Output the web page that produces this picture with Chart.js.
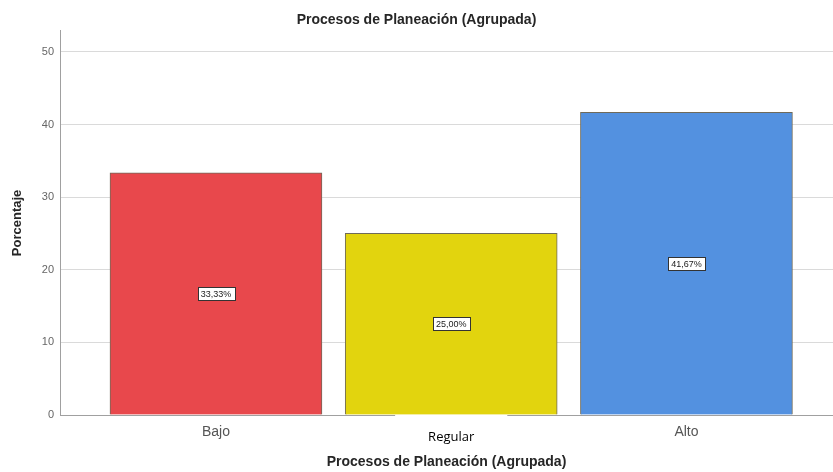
<!DOCTYPE html>
<html>
<head>
<meta charset="utf-8">
<script src="https://cdn.jsdelivr.net/npm/chart.js@4"></script>
<style>
  html, body { margin:0; padding:0; background:#fff; }
  #wrap { width:833px; height:472px; position:relative; }
</style>
</head>
<body>
<div id="wrap"><canvas id="ch-planeacion"></canvas></div>
<script>
// ====================== DATA ======================
const categories = ['Bajo', 'Regular', 'Alto'];
const percentages = [33.33, 25.00, 41.67];
const barColors = ['#e8484c', '#e2d40e', '#5391e0'];
const yTicks = [0, 10, 20, 30, 40, 50];

const chartTitle = 'Procesos de Planeación (Agrupada)';
const xTitle = 'Procesos de Planeación (Agrupada)';
const yTitle = 'Porcentaje';

const fmtPct = v => v.toFixed(2).replace('.', ',') + '%';

// value box in the middle of each bar
const valueBoxes = {
  id: 'valueBoxes',
  afterDatasetsDraw(chart) {
    const ctx = chart.ctx;
    const meta = chart.getDatasetMeta(0);
    ctx.save();
    ctx.font = '9px "Liberation Sans", Arial, sans-serif';
    ctx.textAlign = 'center';
    ctx.textBaseline = 'middle';
    meta.data.forEach((bar, i) => {
      const txt = fmtPct(percentages[i]);
      const cx = bar.x, cy = (bar.y + bar.base) / 2;
      const w = ctx.measureText(txt).width + 6, h = 13;
      ctx.fillStyle = '#fff';
      ctx.fillRect(Math.round(cx - w/2) + 0.5, Math.round(cy - h/2) + 0.5, Math.round(w), h);
      ctx.strokeStyle = '#333';
      ctx.lineWidth = 1;
      ctx.strokeRect(Math.round(cx - w/2) + 0.5, Math.round(cy - h/2) + 0.5, Math.round(w), h);
      ctx.fillStyle = '#222';
      ctx.fillText(txt, cx, cy + 1);
    });
    ctx.restore();
  }
};

const cvs = document.getElementById('ch-planeacion');
new Chart(cvs, {
  type: 'bar',
  data: {
    datasets: [{
      data: percentages.map((v, i) => ({ x: i, y: v })),
      backgroundColor: barColors,
      borderColor: '#6f6a5a',
      borderWidth: 1,
      barThickness: 212
    }]
  },
  options: {
    responsive: true, maintainAspectRatio: false, animation: false,
    layout: { padding: 0 },
    plugins: {
      legend: { display: false },
      tooltip: { enabled: false },
      title: {
        display: true, text: chartTitle, color: '#262626',
        font: { family: '"Liberation Sans", Arial, sans-serif', size: 14, weight: 'bold' },
        padding: { top: 12, bottom: 2 }
      }
    },
    scales: {
      x: {
        type: 'linear', min: -0.663, max: 2.623, offset: false, z: 1,
        grid: { display: false, drawTicks: false, offset: false },
        border: { display: true, color: '#a0a0a0' },
        afterBuildTicks: s => { s.ticks = categories.map((c, i) => ({ value: i })); },
        afterFit: s => { s.height = 57; },
        ticks: {
          padding: 9,
          callback: v => categories[v],
          color: c => c.index === 1 ? '#000' : '#555',
          font: c => c.index === 1
            ? { family: '"Open Sans", sans-serif', size: 13, lineHeight: 2 }
            : { family: '"Liberation Sans", Arial, sans-serif', size: 14 },
          showLabelBackdrop: c => c.index === 1,
          backdropColor: '#fff',
          backdropPadding: { top: 10, bottom: 2, left: 33, right: 33 }
        },
        title: {
          display: true, text: xTitle, color: '#262626',
          font: { family: '"Liberation Sans", Arial, sans-serif', size: 14, weight: 'bold' },
          padding: { top: 0, bottom: 1 }
        }
      },
      y: {
        min: 0, max: 52.9,
        grid: { color: '#dadada', drawTicks: false },
        border: { display: true, color: '#a0a0a0' },
        afterBuildTicks: s => { s.ticks = yTicks.map(v => ({ value: v })); },
        afterFit: s => { s.width = 60; },
        ticks: {
          padding: 6, color: '#666',
          font: { family: '"Liberation Sans", Arial, sans-serif', size: 11 }
        },
        title: {
          display: true, text: yTitle, color: '#262626',
          font: { family: '"Liberation Sans", Arial, sans-serif', size: 13, weight: 'bold' },
          padding: { top: 10, bottom: 0 }
        }
      }
    }
  },
  plugins: [valueBoxes]
});
</script>
</body>
</html>
